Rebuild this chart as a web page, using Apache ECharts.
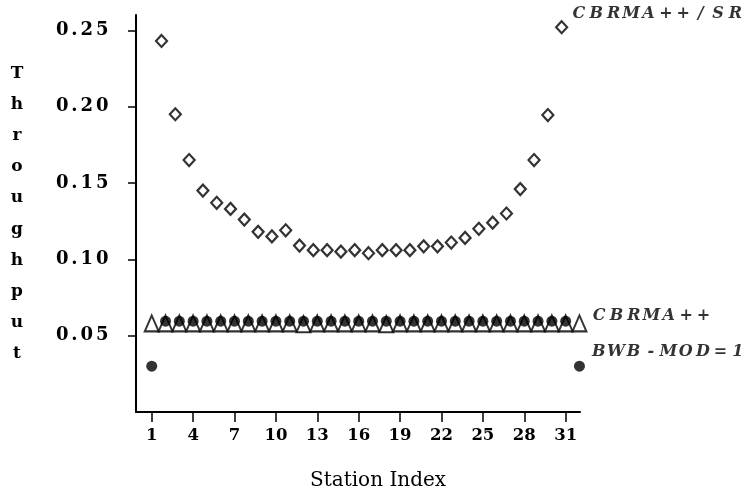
<!DOCTYPE html>
<html>
<head>
<meta charset="utf-8">
<script src="https://cdn.jsdelivr.net/npm/echarts@6/dist/echarts.min.js"></script>
<style>
  html, body { margin: 0; padding: 0; background: #ffffff; }
  #chart { width: 752px; height: 497px; }
</style>
</head>
<body>
<div id="chart"></div>
<script>
// Station indexes along the bus
const stations = [1, 2, 3, 4, 5, 6, 7, 8, 9, 10, 11, 12, 13, 14, 15, 16,
                  17, 18, 19, 20, 21, 22, 23, 24, 25, 26, 27, 28, 29, 30, 31, 32];
const srStations = [2, 3, 4, 5, 6, 7, 8, 9, 10, 11, 12, 13, 14, 15, 16,
                    17, 18, 19, 20, 21, 22, 23, 24, 25, 26, 27, 28, 29, 30, 31];

// Per-station throughput, CBRMA++ with slot reuse
const srThroughput = [0.243, 0.195, 0.165, 0.145, 0.137, 0.133, 0.126, 0.118, 0.115, 0.119,
                      0.109, 0.106, 0.106, 0.105, 0.106, 0.104, 0.106, 0.106, 0.106, 0.1085,
                      0.1085, 0.111, 0.114, 0.120, 0.124, 0.130, 0.146, 0.165, 0.1945, 0.252];

// Per-station throughput, CBRMA++
const cbrmaThroughput = [0.058, 0.058, 0.058, 0.058, 0.058, 0.058, 0.058, 0.058,
                         0.058, 0.058, 0.058, 0.0575, 0.058, 0.058, 0.058, 0.058,
                         0.058, 0.0575, 0.058, 0.058, 0.058, 0.058, 0.058, 0.058,
                         0.058, 0.058, 0.058, 0.058, 0.058, 0.058, 0.058, 0.058];

// Per-station throughput, bandwidth balancing modulus 1
const bwbThroughput = [0.030, 0.0595, 0.0595, 0.0595, 0.0595, 0.0595, 0.0595, 0.0595,
                       0.0595, 0.0595, 0.0595, 0.0595, 0.0595, 0.0595, 0.0595, 0.0595,
                       0.0595, 0.0595, 0.0595, 0.0595, 0.0595, 0.0595, 0.0595, 0.0595,
                       0.0595, 0.0595, 0.0595, 0.0595, 0.0595, 0.0595, 0.0595, 0.030];

const xTicks = [1, 4, 7, 10, 13, 16, 19, 22, 25, 28, 31];
const yTicks = [0.05, 0.10, 0.15, 0.20, 0.25];

const seriesNames = ['CBRMA++/SR', 'CBRMA++', 'BWB-MOD=1'];

const SERIF = '"DejaVu Serif", "Liberation Serif", serif';

// Lay a string out as evenly spaced character cells (rich text tokens)
function spaced(text, style) {
  return text.split('').map(function (ch) { return '{' + style + '|' + ch + '}'; }).join('');
}

function pairs(xs, ys) {
  return xs.map(function (x, i) { return [x, ys[i]]; });
}

const lastIndex = [srStations.length - 1, stations.length - 1, stations.length - 1];

// Series name written beside the series' final marker
function endLabel(seriesIdx, offset, distance) {
  return {
    show: true,
    position: 'right',
    distance: distance,
    offset: offset,
    formatter: function (p) {
      return p.dataIndex === lastIndex[seriesIdx] ? spaced(seriesNames[seriesIdx], 'c') : '';
    },
    rich: {
      c: {
        width: 17.4,
        align: 'center',
        fontFamily: SERIF,
        fontStyle: 'italic',
        fontWeight: 'bold',
        fontSize: 16,
        color: '#000'
      }
    }
  };
}

const chart = echarts.init(document.getElementById('chart'), null, { renderer: 'canvas' });

chart.setOption({
  animation: false,
  backgroundColor: '#ffffff',
  title: {
    text: 'Station Index',
    left: 310,
    top: 471,
    padding: 0,
    textStyle: { fontFamily: SERIF, fontSize: 20, fontWeight: 'normal', color: '#000' }
  },
  grid: { left: 136, top: 15, width: 444, height: 397, containLabel: false },
  xAxis: {
    type: 'value',
    min: -0.14,
    max: 32.04,
    splitLine: { show: false },
    axisLine: { show: true, onZero: false, lineStyle: { color: '#000', width: 2 } },
    axisTick: { show: true, customValues: xTicks, length: 10, lineStyle: { color: '#000', width: 1.5 } },
    axisLabel: {
      customValues: xTicks,
      margin: 15,
      fontFamily: SERIF,
      fontSize: 16.5,
      fontWeight: 'bold',
      color: '#000'
    }
  },
  yAxis: {
    type: 'value',
    min: 0,
    max: 0.26,
    name: 'Throughput'.split('').join('\n'),
    nameLocation: 'middle',
    nameRotate: 0,
    nameGap: 119,
    nameTextStyle: {
      fontFamily: SERIF,
      fontSize: 17,
      fontWeight: 'bold',
      color: '#000',
      align: 'center',
      verticalAlign: 'middle',
      lineHeight: 31.2
    },
    splitLine: { show: false },
    axisLine: { show: true, onZero: false, lineStyle: { color: '#000', width: 2 } },
    axisTick: { show: true, customValues: yTicks, length: 8, lineStyle: { color: '#000', width: 1.5 } },
    axisLabel: {
      customValues: yTicks,
      margin: 26,
      formatter: function (v) {
        return v.toFixed(2).split('').map(function (ch) {
          return ch === '.' ? '{p|.}' : '{d|' + ch + '}';
        }).join('');
      },
      rich: {
        d: { width: 15.5, align: 'center', fontFamily: SERIF, fontSize: 18, fontWeight: 'bold', color: '#000' },
        p: { width: 9, align: 'center', fontFamily: SERIF, fontSize: 18, fontWeight: 'bold', color: '#000' }
      }
    }
  },
  series: [
    {
      name: seriesNames[0],
      type: 'scatter',
      clip: false,
      symbol: 'diamond',
      symbolSize: [11, 12],
      symbolOffset: [-4, 0],
      itemStyle: { color: '#ffffff', borderColor: '#000', borderWidth: 2.2 },
      label: endLabel(0, [0, -13], 2),
      data: pairs(srStations, srThroughput),
      z: 3
    },
    {
      name: seriesNames[1],
      type: 'scatter',
      clip: false,
      symbol: 'triangle',
      symbolSize: [14, 16],
      itemStyle: { color: '#ffffff', borderColor: '#000', borderWidth: 2 },
      label: endLabel(1, [0, -8], 3),
      data: pairs(stations, cbrmaThroughput),
      z: 2
    },
    {
      name: seriesNames[2],
      type: 'scatter',
      clip: false,
      symbol: 'circle',
      symbolSize: 11,
      itemStyle: { color: '#000', borderWidth: 0 },
      label: endLabel(2, [0, -14], 5),
      data: pairs(stations, bwbThroughput),
      z: 4
    }
  ]
});
</script>
</body>
</html>
